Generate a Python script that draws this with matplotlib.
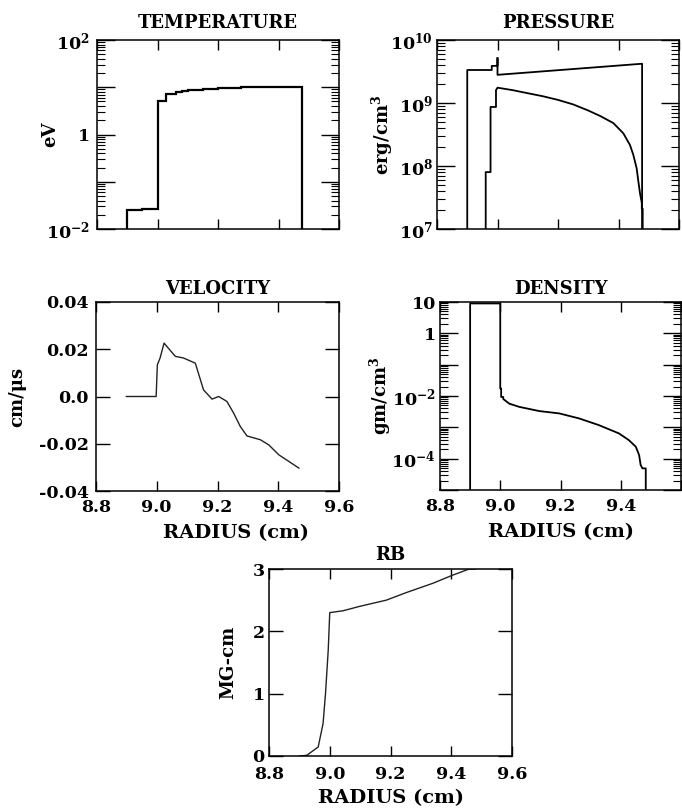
import numpy as np
import matplotlib
matplotlib.use("Agg")
import matplotlib.pyplot as plt
from matplotlib.ticker import LogLocator, NullFormatter

plt.rcParams['font.family'] = ['DejaVu Serif']
plt.rcParams['font.weight'] = 'bold'
plt.rcParams['mathtext.fontset'] = 'custom'
plt.rcParams['mathtext.rm'] = 'DejaVu Serif:bold'
plt.rcParams['mathtext.it'] = 'DejaVu Serif:italic:bold'
plt.rcParams['mathtext.bf'] = 'DejaVu Serif:bold'
plt.rcParams['axes.linewidth'] = 1.1

# ---------------- data ----------------
radius_ticks = [8.8, 9.0, 9.2, 9.4, 9.6]
radius_labels = ['8.8', '9.0', '9.2', '9.4', '9.6']
radius_labels_density = ['8.8', '9.0', '9.2', '9.4', '']

# Temperature (eV) as zone steps
temp_edges = [8.9, 8.95, 9.0, 9.028, 9.06, 9.08, 9.1, 9.125, 9.15, 9.175, 9.2, 9.225, 9.25,
              9.275, 9.3, 9.325, 9.35, 9.375, 9.4, 9.425, 9.45, 9.478]
temp_values = [0.025, 0.026, 5.2, 7.2, 7.9, 8.3, 8.6, 8.9, 9.1, 9.3, 9.5, 9.7, 9.8,
               9.9, 10.0, 10.1, 10.1, 10.2, 10.2, 10.3, 10.3]
temp_floor = 1e-2

# Pressure (erg/cm^3), two curves
press1_r = [8.9, 8.9, 8.981, 8.981, 9.0, 9.0, 9.0, 9.478, 9.478]
press1_p = [1e7, 3.34e9, 3.34e9, 3.87e9, 3.9e9, 5.2e9, 2.8e9, 4.2e9, 1e7]
press2_r = [8.961, 8.961, 8.977, 8.977, 8.995, 8.995, 9.0, 9.05, 9.1, 9.15, 9.2, 9.25,
            9.3, 9.34, 9.383, 9.416, 9.438, 9.449, 9.460, 9.465, 9.471, 9.477, 9.477, 9.48, 9.48]
press2_p = [1e7, 8.0e7, 8.0e7, 8.65e8, 8.65e8, 1.6e9, 1.75e9, 1.6e9, 1.43e9, 1.28e9, 1.12e9, 9.5e8,
            7.6e8, 6.2e8, 4.8e8, 3.3e8, 2.15e8, 1.5e8, 9.2e7, 6.0e7, 3.7e7, 2.6e7, 2.1e7, 2.1e7, 1e7]

# Velocity (cm/us)
vel_r = [8.9, 8.978, 8.998, 9.002, 9.011, 9.024, 9.061, 9.088, 9.127, 9.154, 9.182, 9.204,
         9.231, 9.253, 9.275, 9.297, 9.341, 9.369, 9.402, 9.468]
vel_v = [0.0, 0.0, 0.0, 0.0134, 0.0163, 0.0226, 0.0170, 0.0163, 0.0141, 0.0028, -0.0011, 0.0,
         -0.0021, -0.0070, -0.0127, -0.0167, -0.0183, -0.0205, -0.0247, -0.0303]

# Density (gm/cm^3)
dens_r = [8.9, 8.9, 9.0, 9.0, 9.003, 9.003, 9.01, 9.01, 9.03, 9.063, 9.13, 9.196, 9.262,
          9.328, 9.394, 9.427, 9.450, 9.461, 9.466, 9.472, 9.483, 9.483]
dens_rho = [1e-5, 9.0, 9.0, 0.0174, 0.0174, 9.3e-3, 9.3e-3, 8.0e-3, 5.7e-3, 4.5e-3, 3.3e-3, 2.78e-3,
            1.92e-3, 1.17e-3, 6.4e-4, 3.9e-4, 2.4e-4, 1.3e-4, 6.3e-5, 4.9e-5, 4.9e-5, 1e-5]

# RB (MG-cm)
rb_r = [8.9, 8.924, 8.962, 8.978, 8.986, 8.995, 9.0, 9.044, 9.098, 9.186, 9.251, 9.339, 9.404, 9.459, 9.48]
rb_v = [0.0, 0.01, 0.145, 0.52, 1.0, 1.70, 2.30, 2.33, 2.40, 2.50, 2.62, 2.77, 2.90, 3.0, 3.0]

# ---------------- figure ----------------
W, H = 682, 810
fig = plt.figure(figsize=(W / 100, H / 100), dpi=100)

def ax_px(left, top, right, bottom):
    return fig.add_axes([left / W, (H - bottom) / H, (right - left) / W, (bottom - top) / H])

ax_t = ax_px(97, 40, 339, 229)
ax_p = ax_px(437, 40, 679, 229)
ax_v = ax_px(96, 302, 339, 491)
ax_d = ax_px(440, 302, 681, 490)
ax_b = ax_px(269, 569, 512, 756)

TICKFS = 12.5
LABFS = 13
TITLEFS = 13

def common_x(ax, labels, label_texts=radius_labels, pad=5.5):
    ax.set_xlim(8.8, 9.6)
    ax.set_xticks(radius_ticks)
    if labels:
        ax.set_xticklabels(label_texts, fontsize=TICKFS, fontweight='bold')
    ax.tick_params(axis='x', which='major', direction='in', top=True, bottom=True,
                   length=7, width=1.0, labelbottom=labels, pad=pad)

def log_y(ax, lo, hi, majors, labels, pad):
    ax.set_yscale('log')
    ax.set_ylim(lo, hi)
    ax.set_yticks(majors)
    ax.set_yticklabels(labels, fontsize=TICKFS, fontweight='bold')
    ax.yaxis.set_minor_locator(LogLocator(base=10, subs=np.arange(2, 10), numticks=50))
    ax.yaxis.set_minor_formatter(NullFormatter())
    ax.tick_params(axis='y', which='major', direction='in', left=True, right=True,
                   length=13, width=1.0, pad=pad)
    ax.tick_params(axis='y', which='minor', direction='in', left=True, right=True,
                   length=6, width=0.8)

def lin_y(ax, lo, hi, ticks, labels, pad):
    ax.set_ylim(lo, hi)
    ax.set_yticks(ticks)
    ax.set_yticklabels(labels, fontsize=TICKFS, fontweight='bold')
    ax.tick_params(axis='y', which='major', direction='in', left=True, right=True,
                   length=10, width=1.0, pad=pad)

def title(ax, text, off):
    ax.set_title(text, fontsize=TITLEFS, fontweight='bold', y=1 + off, va='center', pad=0)

def ylab(ax, text, x):
    ax.set_ylabel(text, fontsize=LABFS, fontweight='bold', va='center')
    ax.yaxis.set_label_coords(x, 0.5)

def xlab(ax, x, y):
    ax.set_xlabel('RADIUS (cm)', fontsize=14, fontweight='bold', va='center')
    ax.xaxis.set_label_coords(x, y)

# Temperature
ax_t.stairs(temp_values, temp_edges, baseline=temp_floor, color='black', lw=1.6)
common_x(ax_t, False)
log_y(ax_t, 1e-2, 1e2, [1e-2, 1e-1, 1, 1e1, 1e2], ['$10^{-2}$', '', '1', '', '$10^{2}$'], 5)
title(ax_t, 'TEMPERATURE', 0.09)
ylab(ax_t, 'eV', -0.195)

# Pressure
ax_p.plot(press1_r, press1_p, color='black', lw=1.3)
ax_p.plot(press2_r, press2_p, color='black', lw=1.3)
common_x(ax_p, False)
log_y(ax_p, 1e7, 1e10, [1e7, 1e8, 1e9, 1e10], ['$10^{7}$', '$10^{8}$', '$10^{9}$', '$10^{10}$'], 3)
title(ax_p, 'PRESSURE', 0.09)
ylab(ax_p, 'erg/cm$^{3}$', -0.227)

# Velocity
ax_v.plot(vel_r, vel_v, color='#222222', lw=1.0)
common_x(ax_v, True)
lin_y(ax_v, -0.04, 0.04, [-0.04, -0.02, 0.0, 0.02, 0.04],
      ['-0.04', '-0.02', '0.0', '0.02', '0.04'], 5)
title(ax_v, 'VELOCITY', 0.069)
ylab(ax_v, 'cm/μs', -0.325)
xlab(ax_v, 0.576, -0.222)

# Density
ax_d.plot(dens_r, dens_rho, color='black', lw=1.3)
common_x(ax_d, True, radius_labels_density)
log_y(ax_d, 1e-5, 1e1, [1e-5, 1e-4, 1e-3, 1e-2, 1e-1, 1, 1e1],
      ['', '$10^{-4}$', '', '$10^{-2}$', '', '1', '10'], 3)
title(ax_d, 'DENSITY', 0.069)
ylab(ax_d, 'gm/cm$^{3}$', -0.249)
xlab(ax_d, 0.5, -0.222)

# RB
ax_b.plot(rb_r, rb_v, color='#222222', lw=1.0)
common_x(ax_b, True, pad=7.5)
lin_y(ax_b, 0, 3, [0, 1, 2, 3], ['0', '1', '2', '3'], 3)
title(ax_b, 'RB', 0.075)
ylab(ax_b, 'MG-cm', -0.169)
xlab(ax_b, 0.5, -0.225)

fig.savefig('out.png', dpi=100)
